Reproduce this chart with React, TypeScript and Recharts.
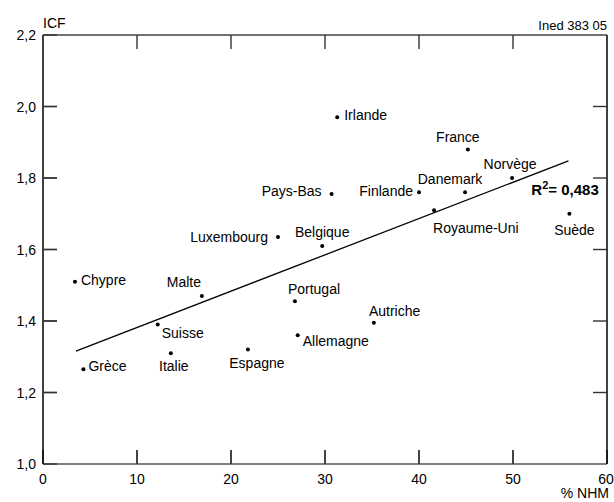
import React from 'react';
import { ScatterChart, Scatter, XAxis, YAxis, ReferenceLine, ReferenceDot, Label } from 'recharts';

const countries = [
  'Chypre', 'Grèce', 'Suisse', 'Italie', 'Malte', 'Espagne', 'Allemagne', 'Portugal', 'Autriche', 'Belgique',
  'Luxembourg', 'Pays-Bas', 'Irlande', 'Finlande', 'Danemark', 'Royaume-Uni', 'Norvège', 'France', 'Suède',
];
const nhm = [3.4, 4.3, 12.2, 13.6, 16.9, 21.8, 27.1, 26.8, 35.2, 29.7, 25.0, 30.7, 31.3, 40.0, 44.9, 41.6, 49.9, 45.2, 56.0];
const icf = [1.51, 1.265, 1.39, 1.31, 1.47, 1.32, 1.36, 1.455, 1.395, 1.61, 1.635, 1.755, 1.97, 1.76, 1.76, 1.71, 1.8, 1.88, 1.7];

const xTicks = [0, 10, 20, 30, 40, 50, 60];
const yTicks = [1.0, 1.2, 1.4, 1.6, 1.8, 2.0, 2.2];

// régression : extrémités de la droite
const trendLine = [
  { x: 3.5, y: 1.316 },
  { x: 55.9, y: 1.848 },
];
const r2Text = '0,483';

// placement des étiquettes autour des points : [dx, dy, ancrage]
const labelPlacement: Record<string, [number, number, 'start' | 'middle' | 'end']> = {
  Chypre: [6, -2, 'start'],
  'Grèce': [5, -3, 'start'],
  Suisse: [4, 8, 'start'],
  Italie: [3, 13, 'middle'],
  Malte: [-18, -14, 'middle'],
  Espagne: [9, 13, 'middle'],
  Allemagne: [5, 6, 'start'],
  Portugal: [-7, -12, 'start'],
  Autriche: [-5, -12, 'start'],
  Belgique: [0, -14, 'middle'],
  Luxembourg: [-10, 0, 'end'],
  'Pays-Bas': [-10, -3, 'end'],
  Irlande: [7, -2, 'start'],
  Finlande: [-6, -1, 'end'],
  Danemark: [-15, -13, 'middle'],
  'Royaume-Uni': [-1, 18, 'start'],
  'Norvège': [-2, -14, 'middle'],
  France: [-10, -12, 'middle'],
  'Suède': [5, 16, 'middle'],
};

const data = countries.map((name, i) => ({ name, x: nhm[i], y: icf[i] }));

const FONT = '"Liberation Sans", Arial, Helvetica, sans-serif';
const X_DOMAIN: [number, number] = [0, 60];
const Y_DOMAIN: [number, number] = [1.0, 2.2];
const TICK_PX = 14;
const fmt = (v: number) => v.toFixed(1).replace('.', ',');

// graduations intérieures, une série par côté du cadre
const bottomMarks = xTicks.slice(1, -1).map((v) => ({ x: v, y: Y_DOMAIN[0] }));
const topMarks = xTicks.slice(1, -1).map((v) => ({ x: v, y: Y_DOMAIN[1] }));
const leftMarks = yTicks.slice(1, -1).map((v) => ({ x: X_DOMAIN[0], y: v }));
const rightMarks = yTicks.slice(1, -1).map((v) => ({ x: X_DOMAIN[1], y: v }));

const makeTick = (dx: number, dy: number) => (props: any) => {
  const { cx, cy } = props;
  return <line x1={cx} y1={cy} x2={cx + dx} y2={cy + dy} stroke="#333" strokeWidth={1.4} />;
};
const TickUp = makeTick(0, -TICK_PX);
const TickDown = makeTick(0, TICK_PX);
const TickRight = makeTick(TICK_PX, 0);
const TickLeft = makeTick(-TICK_PX, 0);

const BottomTick = (props: any) => {
  const { x, y, payload } = props;
  return (
    <text x={x} y={y} textAnchor="middle" dominantBaseline="central" fontSize={14} fontFamily={FONT} fill="#000">
      {payload.value}
    </text>
  );
};

const LeftTick = (props: any) => {
  const { x, y, payload } = props;
  return (
    <text x={x} y={y} textAnchor="end" dominantBaseline="central" fontSize={14} fontFamily={FONT} fill="#000">
      {fmt(payload.value)}
    </text>
  );
};

const PointShape = (props: any) => {
  const { cx, cy, payload } = props;
  const [dx, dy, anchor] = labelPlacement[payload.name] || [6, 0, 'start'];
  return (
    <g>
      <circle cx={cx} cy={cy} r={2} fill="#000" />
      <text x={cx + dx} y={cy + dy} textAnchor={anchor} dominantBaseline="central" fontSize={14} fontFamily={FONT} fill="#000">
        {payload.name}
      </text>
    </g>
  );
};

const R2Label = (props: any) => {
  const { viewBox } = props;
  return (
    <text x={viewBox.x} y={viewBox.y + 5} fontSize={15} fontWeight="bold" fontFamily={FONT} fill="#000">
      R<tspan fontSize={11} dy={-6}>2</tspan>
      <tspan dy={6}>{'= ' + r2Text}</tspan>
    </text>
  );
};

export default function App() {
  return (
    <div style={{ position: 'absolute', left: 0, top: 0, width: 614, height: 502, background: '#fff', fontFamily: FONT }}>
      <ScatterChart width={614} height={502} margin={{ top: 34, right: 6, bottom: 8, left: 0 }}>
        <XAxis
          xAxisId="bottom"
          dataKey="x"
          type="number"
          domain={X_DOMAIN}
          ticks={xTicks}
          height={30}
          tickSize={-TICK_PX}
          tickMargin={15 + TICK_PX}
          tickLine={{ stroke: '#333', strokeWidth: 1.4 }}
          tick={<BottomTick />}
          axisLine={{ stroke: '#555', strokeWidth: 1.5 }}
        >
          <Label
            content={(p: any) => (
              <text x={p.viewBox.x + p.viewBox.width + 2} y={493} textAnchor="end" dominantBaseline="central" fontSize={14} fontFamily={FONT} fill="#000">
                % NHM
              </text>
            )}
          />
        </XAxis>
        <XAxis
          xAxisId="top"
          orientation="top"
          dataKey="x"
          type="number"
          domain={X_DOMAIN}
          ticks={xTicks}
          height={1}
          tickSize={-TICK_PX}
          tickLine={{ stroke: '#333', strokeWidth: 1.4 }}
          tick={false}
          axisLine={{ stroke: '#444', strokeWidth: 1.5 }}
        >
          <Label
            content={(p: any) => (
              <text x={p.viewBox.x + p.viewBox.width} y={p.viewBox.y - 9} textAnchor="end" dominantBaseline="central" fontSize={13} fontFamily={FONT} fill="#000">
                Ined 383 05
              </text>
            )}
          />
        </XAxis>
        <YAxis
          yAxisId="left"
          dataKey="y"
          type="number"
          domain={Y_DOMAIN}
          ticks={yTicks}
          width={43}
          tickSize={-TICK_PX}
          tickMargin={7 + TICK_PX}
          tickLine={{ stroke: '#333', strokeWidth: 1.4 }}
          tick={<LeftTick />}
          axisLine={{ stroke: '#000', strokeWidth: 1.5 }}
        >
          <Label
            content={(p: any) => (
              <text x={p.viewBox.x + p.viewBox.width} y={p.viewBox.y - 12} dominantBaseline="central" fontSize={14} fontFamily={FONT} fill="#000">
                ICF
              </text>
            )}
          />
        </YAxis>
        <YAxis
          yAxisId="right"
          orientation="right"
          dataKey="y"
          type="number"
          domain={Y_DOMAIN}
          ticks={yTicks}
          width={1}
          tickSize={-TICK_PX}
          tickLine={{ stroke: '#333', strokeWidth: 1.4 }}
          tick={false}
          axisLine={{ stroke: '#000', strokeWidth: 1.5 }}
        />
        <ReferenceLine
          xAxisId="bottom"
          yAxisId="left"
          segment={trendLine}
          stroke="#000"
          strokeWidth={1.3}
          ifOverflow="visible"
        />
        <ReferenceDot xAxisId="bottom" yAxisId="left" x={51.95} y={1.766} r={0} stroke="none" fill="none" label={<R2Label />} />
        <Scatter xAxisId="bottom" yAxisId="left" data={bottomMarks} shape={<TickUp />} isAnimationActive={false} />
        <Scatter xAxisId="bottom" yAxisId="left" data={topMarks} shape={<TickDown />} isAnimationActive={false} />
        <Scatter xAxisId="bottom" yAxisId="left" data={leftMarks} shape={<TickRight />} isAnimationActive={false} />
        <Scatter xAxisId="bottom" yAxisId="left" data={rightMarks} shape={<TickLeft />} isAnimationActive={false} />
        <Scatter
          xAxisId="bottom"
          yAxisId="left"
          data={data}
          shape={<PointShape />}
          isAnimationActive={false}
        />
        <Scatter xAxisId="top" yAxisId="right" data={data} shape={() => <g />} isAnimationActive={false} />
      </ScatterChart>
    </div>
  );
}
